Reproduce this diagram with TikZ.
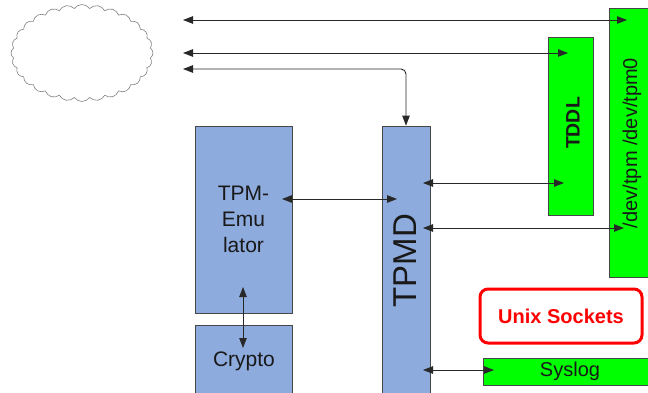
\documentclass[tikz,border=0pt]{standalone}
\usepackage{fontspec}
\setmainfont{Liberation Sans}
\usetikzlibrary{arrows.meta,shapes.symbols}
\definecolor{boxblue}{RGB}{142,171,221}
\definecolor{boxgreen}{RGB}{0,255,0}
\definecolor{edgegray}{RGB}{70,70,70}
\definecolor{linkgray}{RGB}{40,40,40}
\definecolor{inkdark}{RGB}{25,25,25}
\definecolor{alertred}{RGB}{255,0,0}
\newcommand{\fs}[1]{\fontsize{#1}{1.3\dimexpr#1pt\relax}\selectfont}
\begin{document}
\begin{tikzpicture}[x=1pt,y=-1pt,
  bluebox/.style={draw=edgegray, fill=boxblue, line width=0.8pt, inner sep=0pt},
  greenbox/.style={draw=edgegray, fill=boxgreen, line width=0.8pt, inner sep=0pt},
  label/.style={text=inkdark, inner sep=0pt},
  link/.style={draw=linkgray, line width=0.9pt,
    {Triangle[length=10pt,width=7.5pt]}-{Triangle[length=10pt,width=7.5pt]}},
  sockets/.style={draw=alertred, line width=3pt, rounded corners=8pt, text=alertred,
    font=\bfseries\fs{20}, minimum width=162pt, minimum height=54pt}]
\useasboundingbox (0,0) rectangle (648,393);
\clip (0,0) rectangle (648,393);

% network cloud
\node[cloud, draw=gray, line width=0.6pt, cloud puffs=28, cloud puff arc=110,
  aspect=1.46, minimum width=142pt, minimum height=97pt, inner sep=0pt] (net) at (82,53) {};

% device nodes on the right
\node[greenbox, minimum width=47pt, minimum height=269pt] (dev) at (632.5,142.5) {};
\node[label, rotate=90, font=\fs{20}] (devtext) at (632,143) {/dev/tpm /dev/tpm0};
\node[greenbox, minimum width=45pt, minimum height=178pt] (tddl) at (570.5,126) {};
\node[label, rotate=90, font=\bfseries\fs{19.5}] (tddltext) at (573,123) {TDDL};

% daemon and emulator
\node[bluebox, minimum width=48pt, minimum height=270pt] (tpmd) at (406,261) {};
\node[label, rotate=90, font=\fs{33}] (tpmdtext) at (405,260.5) {TPMD};
\node[bluebox, minimum width=97pt, minimum height=187pt, align=center,
  font=\fs{21}, text=inkdark] (emu) at (243.5,219.5) {TPM-\\[-1.5pt]Emu\\[-1.5pt]lator};
\node[bluebox, minimum width=97pt, minimum height=80pt] (crypto) at (243.5,365) {};
\node[label, anchor=base, font=\fs{21}] (cryptotext) at (244,366) {Crypto};

% socket legend and syslog
\node[sockets] (unix) at (561,316) {Unix Sockets};
\node[greenbox, minimum width=174pt, minimum height=27pt, font=\fs{20}, text=inkdark] (syslog) at (570,371.5) {Syslog};

% connector end points
\coordinate (n1) at (183,20);
\coordinate (n2) at (183,53);
\coordinate (n3) at (183,69);
\coordinate (d1) at (627,20);
\coordinate (t1) at (568,53);
\coordinate (e1) at (282,199);
\coordinate (p1) at (397,199);
\coordinate (e2) at (243,287);
\coordinate (c1) at (243,348);
\coordinate (p2) at (423,183);
\coordinate (t2) at (564,183);
\coordinate (p3) at (423,228);
\coordinate (d2) at (624,228);
\coordinate (p4) at (423,370);
\coordinate (s1) at (494,370);

% connectors
\draw[link] (n1) -- (d1);
\draw[link] (n2) -- (t1);
\draw[link, rounded corners=5pt] (n3) -| (tpmd.north);
\draw[link] (e1) -- (p1);
\draw[link] (e2) -- (c1);
\draw[link] (p2) -- (t2);
\draw[link] (p3) -- (d2);
\draw[link] (p4) -- (s1);
\end{tikzpicture}
\end{document}
